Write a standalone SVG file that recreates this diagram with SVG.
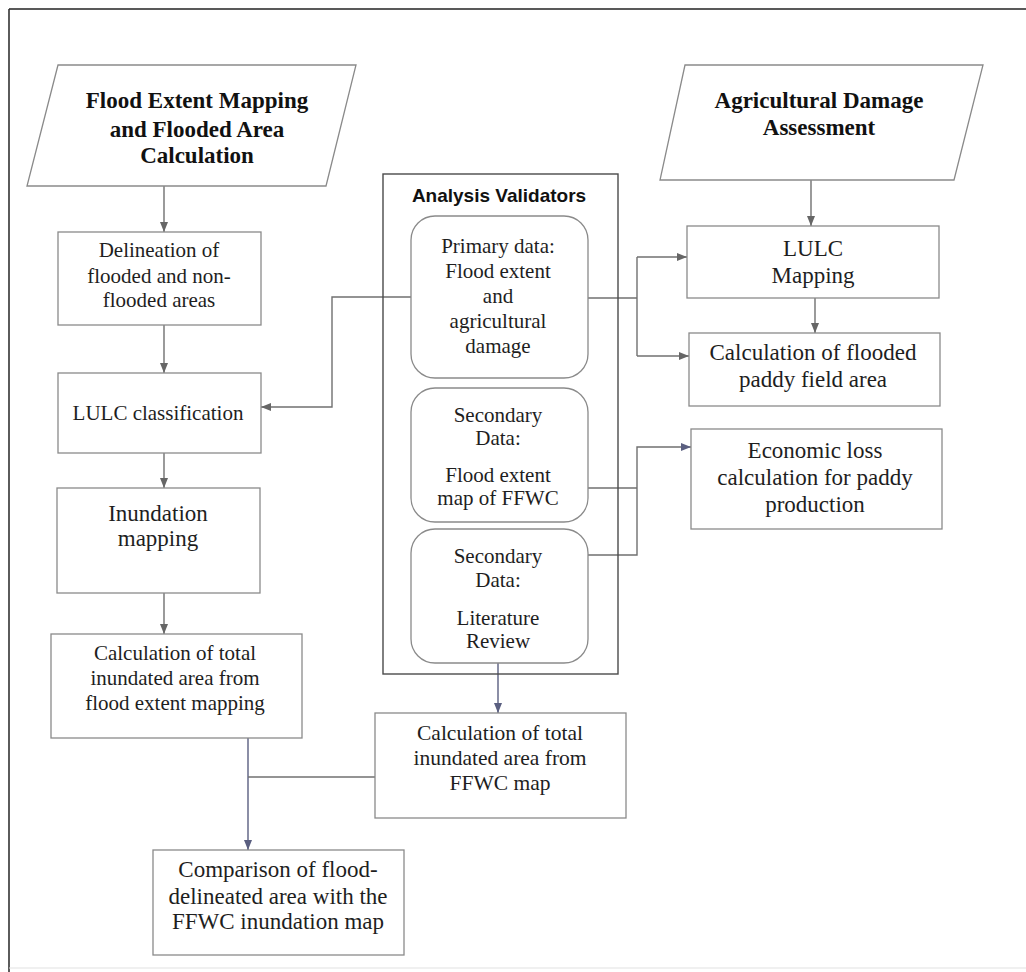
<svg xmlns="http://www.w3.org/2000/svg" width="1026" height="972" viewBox="0 0 1026 972">
<defs>
<marker id="ah" markerUnits="userSpaceOnUse" markerWidth="10" markerHeight="10" viewBox="0 0 10 10" refX="10" refY="5" orient="auto">
<path d="M0,1 L10,5 L0,9 Z" fill="#666"/>
</marker>
<marker id="ahb" markerUnits="userSpaceOnUse" markerWidth="10" markerHeight="10" viewBox="0 0 10 10" refX="10" refY="5" orient="auto">
<path d="M0,1 L10,5 L0,9 Z" fill="#5a5f80"/>
</marker>
<style>
.box{fill:#fff;stroke:#8a8a8a;stroke-width:1.3}
.rbox{fill:#fff;stroke:#8a8a8a;stroke-width:1.3}
.para{fill:#fff;stroke:#8a8a8a;stroke-width:1.3}
.t{font-family:"Liberation Serif","Times New Roman",serif;fill:#1e1e1e;text-anchor:middle}
.tb{font-family:"Liberation Serif","Times New Roman",serif;font-weight:bold;font-size:23px;fill:#111;text-anchor:middle}
.c{fill:none;stroke:#707070;stroke-width:1.4}
.cb{fill:none;stroke:#5a5f80;stroke-width:1.4}
</style>
</defs>
<rect x="0" y="0" width="1026" height="972" fill="#fff"/>
<g id="frame">
<line x1="9" y1="9" x2="1026" y2="9" stroke="#222" stroke-width="1.6"/>
<line x1="9" y1="9" x2="9" y2="972" stroke="#333" stroke-width="1.6"/>
<line x1="9" y1="968" x2="1026" y2="968" stroke="#e2e2e2" stroke-width="1.2"/>
</g>
<g id="connectors">
<line class="c" x1="164" y1="186" x2="164" y2="232" marker-end="url(#ah)"/>
<line class="c" x1="164" y1="325" x2="164" y2="373" marker-end="url(#ah)"/>
<line class="c" x1="164" y1="453" x2="164" y2="488" marker-end="url(#ah)"/>
<line class="c" x1="164" y1="593" x2="164" y2="634" marker-end="url(#ah)"/>
<line class="cb" x1="248" y1="738" x2="248" y2="850" marker-end="url(#ahb)"/>
<line class="c" x1="248" y1="777" x2="375" y2="777"/>
<line class="cb" x1="498" y1="663" x2="498" y2="713" marker-end="url(#ahb)"/>
<polyline class="c" points="411,297 332,297 332,407 261,407" marker-end="url(#ah)"/>
<line class="c" x1="588" y1="298" x2="637" y2="298"/>
<line class="c" x1="637" y1="257" x2="637" y2="356"/>
<line class="c" x1="637" y1="257" x2="687" y2="257" marker-end="url(#ah)"/>
<line class="c" x1="637" y1="356" x2="689" y2="356" marker-end="url(#ah)"/>
<line class="c" x1="811" y1="180" x2="811" y2="226" marker-end="url(#ah)"/>
<line class="c" x1="815" y1="298" x2="815" y2="333" marker-end="url(#ah)"/>
<line class="c" x1="588" y1="488" x2="637" y2="488"/>
<polyline class="c" points="588,555 637,555 637,447 691,447" marker-end="url(#ahb)"/>
</g>
<g id="flood-extent-title">
<polygon class="para" points="58,65 356,65 326,186 27,186"/>
<text class="tb" x="197" y="108">Flood Extent Mapping</text>
<text class="tb" x="197" y="137">and Flooded Area</text>
<text class="tb" x="197" y="163">Calculation</text>
</g>
<g id="agri-title">
<polygon class="para" points="685,65 983,65 954,180 660,180"/>
<text class="tb" x="819" y="108">Agricultural Damage</text>
<text class="tb" x="819" y="135">Assessment</text>
</g>
<g id="delineation">
<rect class="box" x="58" y="232" width="203" height="93"/>
<text class="t" font-size="21" x="159" y="257">Delineation of</text>
<text class="t" font-size="21" x="159" y="283">flooded and non-</text>
<text class="t" font-size="21" x="159" y="307">flooded areas</text>
</g>
<g id="lulc-classification">
<rect class="box" x="58" y="373" width="203" height="80"/>
<text class="t" font-size="21" x="158" y="420">LULC classification</text>
</g>
<g id="inundation-mapping">
<rect class="box" x="57" y="488" width="203" height="105"/>
<text class="t" font-size="23" x="158" y="521">Inundation</text>
<text class="t" font-size="23" x="158" y="546">mapping</text>
</g>
<g id="calc-flood-extent">
<rect class="box" x="51" y="634" width="251" height="104"/>
<text class="t" font-size="21" x="175" y="660">Calculation of total</text>
<text class="t" font-size="21" x="175" y="685">inundated area from</text>
<text class="t" font-size="21" x="175" y="710">flood extent mapping</text>
</g>
<g id="comparison">
<rect class="box" x="153" y="850" width="251" height="105"/>
<text class="t" font-size="23" x="278" y="877">Comparison of flood-</text>
<text class="t" font-size="23" x="278" y="904">delineated area with the</text>
<text class="t" font-size="23" x="278" y="929">FFWC inundation map</text>
</g>
<g id="analysis-validators">
<rect x="383" y="174" width="235" height="500" fill="none" stroke="#4a4a4a" stroke-width="1.4"/>
<text x="499" y="202" font-family="'Liberation Sans',Arial,sans-serif" font-weight="bold" font-size="19" fill="#111" text-anchor="middle">Analysis Validators</text>
</g>
<g id="primary-data">
<rect class="rbox" x="411" y="216" width="177" height="162" rx="24"/>
<text class="t" font-size="21" x="498" y="253">Primary data:</text>
<text class="t" font-size="21" x="498" y="278">Flood extent</text>
<text class="t" font-size="21" x="498" y="303">and</text>
<text class="t" font-size="21" x="498" y="328">agricultural</text>
<text class="t" font-size="21" x="498" y="353">damage</text>
</g>
<g id="secondary-ffwc">
<rect class="rbox" x="411" y="388" width="177" height="134" rx="24"/>
<text class="t" font-size="21" x="498" y="422">Secondary</text>
<text class="t" font-size="21" x="498" y="445">Data:</text>
<text class="t" font-size="21" x="498" y="482">Flood extent</text>
<text class="t" font-size="21" x="498" y="505">map of FFWC</text>
</g>
<g id="secondary-literature">
<rect class="rbox" x="411" y="529" width="177" height="134" rx="24"/>
<text class="t" font-size="21" x="498" y="563">Secondary</text>
<text class="t" font-size="21" x="498" y="587">Data:</text>
<text class="t" font-size="21" x="498" y="625">Literature</text>
<text class="t" font-size="21" x="498" y="648">Review</text>
</g>
<g id="calc-ffwc">
<rect class="box" x="375" y="713" width="251" height="105"/>
<text class="t" font-size="21.5" x="500" y="740">Calculation of total</text>
<text class="t" font-size="21.5" x="500" y="765">inundated area from</text>
<text class="t" font-size="21.5" x="500" y="790">FFWC map</text>
</g>
<g id="lulc-mapping">
<rect class="box" x="687" y="226" width="252" height="72"/>
<text class="t" font-size="23" x="813" y="256">LULC</text>
<text class="t" font-size="23" x="813" y="283">Mapping</text>
</g>
<g id="calc-paddy">
<rect class="box" x="689" y="333" width="251" height="73"/>
<text class="t" font-size="23" x="813" y="360">Calculation of flooded</text>
<text class="t" font-size="23" x="813" y="387">paddy field area</text>
</g>
<g id="economic-loss">
<rect class="box" x="691" y="429" width="251" height="100"/>
<text class="t" font-size="23" x="815" y="458">Economic loss</text>
<text class="t" font-size="23" x="815" y="485">calculation for paddy</text>
<text class="t" font-size="23" x="815" y="512">production</text>
</g>
</svg>
